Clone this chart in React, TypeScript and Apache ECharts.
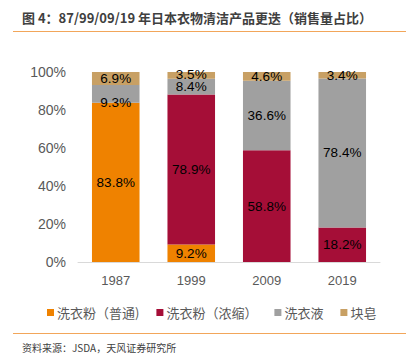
import React, { useEffect, useRef } from "react";
import * as echarts from "echarts";

const categories = ["1987", "1999", "2009", "2019"];
const seriesNames = ["洗衣粉（普通)", "洗衣粉（浓缩）", "洗衣液", "块皂"];
const powderRegular = [83.8, 9.2, 0, 0];
const powderConcentrated = [0, 78.9, 58.8, 18.2];
const liquid = [9.3, 8.4, 36.6, 78.4];
const barSoap = [6.9, 3.5, 4.6, 3.4];
const yTicks = [0, 20, 40, 60, 80, 100];
const titleText = "图 4：87/99/09/19 年日本衣物清洁产品更迭（销售量占比）";
const sourceText = "资料来源：JSDA，天风证券研究所";

const colors = ["#EF8200", "#A50E37", "#A0A0A0", "#C8A064"];

export default function App() {
  const ref = useRef<HTMLDivElement>(null);
  useEffect(() => {
    if (!ref.current) return;
    const chart = echarts.init(ref.current, undefined, { renderer: "svg" });
    const all = [powderRegular, powderConcentrated, liquid, barSoap];
    const series = all.map((arr, si) => ({
      name: seriesNames[si],
      type: "bar",
      stack: "total",
      barWidth: "63%",
      itemStyle: { color: colors[si] },
      data: arr.map((v, ci) =>
        si === 2 && ci === 0
          ? { value: v, label: { offset: [0, 9] } }
          : si === 3 && ci === 1
          ? { value: v, label: { offset: [0, -1] } }
          : v
      ),
      label: {
        show: true,
        position: "inside",
        color: "#000",
        fontSize: 13.5,
        fontFamily: "Liberation Sans, Arial, sans-serif",
        formatter: (p: any) => (p.value ? p.value.toFixed(1) + "%" : ""),
      },
    }));
    chart.setOption({
      animation: false,
      backgroundColor: "#fff",
      textStyle: { fontFamily: "Liberation Sans, Arial, sans-serif" },
      grid: { left: 78, right: 26, top: 72, bottom: 97, containLabel: false },
      xAxis: {
        type: "category",
        data: categories,
        axisLine: { show: true, lineStyle: { color: "#D9D9D9", width: 1 } },
        axisTick: { show: false },
        axisLabel: { color: "#595959", fontSize: 13, margin: 12 },
      },
      yAxis: {
        type: "value",
        min: 0,
        max: 100,
        interval: 20,
        axisLine: { show: false },
        axisTick: { show: false },
        splitLine: { show: false },
        axisLabel: {
          color: "#595959",
          fontSize: 14,
          margin: 12,
          formatter: (v: number) => (yTicks.includes(v) ? v + "%" : ""),
        },
      },
      legend: {
        data: seriesNames,
        left: 42,
        top: 301,
        itemWidth: 7,
        itemHeight: 7,
        itemGap: 17,
        icon: "rect",
        textStyle: {
          color: "#595959",
          fontSize: 13,
          fontFamily: "Noto Sans CJK SC",
          padding: [0, 0, 0, -2],
        },
      },
      graphic: [
        {
          type: "text",
          left: 22,
          top: 11,
          style: {
            text: titleText,
            fill: "#404040",
            font: "bold 13px 'Noto Sans CJK SC'",
          },
        },
        {
          type: "line",
          shape: { x1: 13, y1: 31.5, x2: 406, y2: 31.5 },
          style: { stroke: "#F2A65A", lineWidth: 1 },
        },
        {
          type: "line",
          shape: { x1: 13, y1: 333.5, x2: 406, y2: 333.5 },
          style: { stroke: "#F2A65A", lineWidth: 1 },
        },
        {
          type: "text",
          left: 22,
          top: 342,
          style: {
            text: sourceText,
            fill: "#404040",
            font: "10px 'Noto Sans CJK SC'",
          },
        },
      ],
      series,
    });
    return () => chart.dispose();
  }, []);
  return (
    <div
      ref={ref}
      style={{ position: "fixed", left: 0, top: 0, width: 406, height: 359 }}
    />
  );
}
